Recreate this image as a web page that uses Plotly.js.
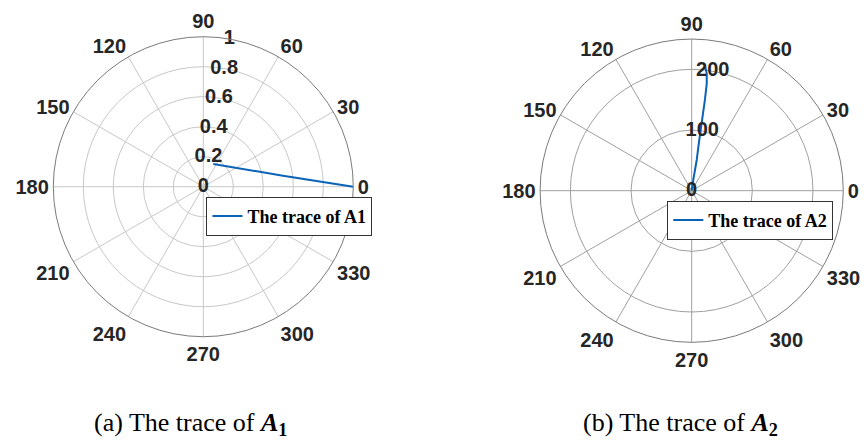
<!DOCTYPE html>
<html>
<head>
<meta charset="utf-8">
<script src="https://cdn.plot.ly/plotly-3.0.1.min.js"></script>
<style>html,body{margin:0;padding:0;background:#fff;}#chart{width:864px;height:445px;}</style>
</head>
<body>
<div id="chart"></div>
<script>
// Trace of A1 (left polar plot)
const a1Theta = [66.2, 7.9, 0];
const a1R = [0.165, 0.536, 1.0];
// Trace of A2 (right polar plot)
const a2Theta = [80, 81.5, 80.7, 81.5, 81.6, 81.7, 82.0, 82.7, 84.0];
const a2R = [0, 17.8, 51.3, 84.5, 112.4, 151.2, 178.8, 195.2, 208.4];

const angleTicks = [0, 30, 60, 90, 120, 150, 180, 210, 240, 270, 300, 330];
const angleTickText = ['0', '30', '60', '90', '120', '150', '180', '210', '240', '270', '300', '330'];
const radialTicks1 = [0, 0.2, 0.4, 0.6, 0.8, 1];
const radialTickText1 = ['0', '0.2', '0.4', '0.6', '0.8', '1'];
const radialTicks2 = [0, 100, 200];
const radialTickText2 = ['0', '100', '200'];
const radialLabelAngle = 80;

const legendName1 = 'The trace of A1';
const legendName2 = 'The trace of A2';
const caption1 = '(a) The trace of <b><i>A</i><sub>1</sub></b>';
const caption2 = '(b) The trace of <b><i>A</i><sub>2</sub></b>';

const bold = arr => arr.map(s => '<b>' + s + '</b>');
const tickFont = {family: 'Liberation Sans, Arial, sans-serif', size: 20, weight: 700, color: '#262626'};
const legendFont = {family: 'Liberation Serif, Times New Roman, serif', size: 18, weight: 700, color: '#000'};
const lineColor = '#0b63b8';

function radialLabels(vals, text, subplot) {
  return {type: 'scatterpolar', mode: 'text', r: vals, theta: vals.map(() => radialLabelAngle),
    text: bold(text), textposition: 'middle center', textfont: tickFont, subplot: subplot,
    showlegend: false, hoverinfo: 'skip', cliponaxis: false};
}

const traces = [
  {type: 'scatterpolar', mode: 'lines', r: a1R, theta: a1Theta, subplot: 'polar',
   name: legendName1, line: {color: lineColor, width: 2}, legend: 'legend'},
  {type: 'scatterpolar', mode: 'lines', r: a2R, theta: a2Theta, subplot: 'polar2',
   name: legendName2, line: {color: lineColor, width: 2}, legend: 'legend2'},
  radialLabels(radialTicks1, radialTickText1, 'polar'),
  radialLabels(radialTicks2, radialTickText2, 'polar2')
];

function angAxis(grid) {
  return {tickvals: angleTicks, ticktext: bold(angleTickText), direction: 'counterclockwise', rotation: 0,
    ticks: '', showline: true, linecolor: '#7a7a7a', linewidth: 1, gridcolor: grid, gridwidth: 1,
    tickfont: tickFont};
}
function radAxis(range, vals, grid) {
  return {range: range, tickvals: vals, angle: radialLabelAngle, showline: false, ticks: '',
    showticklabels: false, gridcolor: grid, gridwidth: 1};
}

const layout = {
  width: 864, height: 445,
  margin: {l: 0, r: 0, t: 0, b: 0},
  paper_bgcolor: '#fff',
  showlegend: true,
  polar: {domain: {x: [0.0617, 0.4089], y: [0.2433, 0.9175]}, bgcolor: '#fff',
    angularaxis: angAxis('#c8c8c8'),
    radialaxis: radAxis([0, 1], radialTicks1, '#c8c8c8')},
  polar2: {domain: {x: [0.6251, 0.9760], y: [0.2308, 0.9122]}, bgcolor: '#fff',
    angularaxis: angAxis('#a0a0a0'),
    radialaxis: radAxis([0, 250], radialTicks2, '#a0a0a0')},
  legend: {x: 0.239, y: 0.558, xanchor: 'left', yanchor: 'top', bgcolor: '#fff',
    bordercolor: '#333', borderwidth: 1, font: legendFont, itemwidth: 30},
  legend2: {x: 0.7723, y: 0.549, xanchor: 'left', yanchor: 'top', bgcolor: '#fff',
    bordercolor: '#333', borderwidth: 1, font: legendFont, itemwidth: 30},
  annotations: [
    {text: caption1, x: 0.221, y: 0.048, xref: 'paper', yref: 'paper', xanchor: 'center', yanchor: 'middle',
     showarrow: false, font: {family: 'Liberation Serif, Times New Roman, serif', size: 26, color: '#000'}},
    {text: caption2, x: 0.788, y: 0.048, xref: 'paper', yref: 'paper', xanchor: 'center', yanchor: 'middle',
     showarrow: false, font: {family: 'Liberation Serif, Times New Roman, serif', size: 26, color: '#000'}}
  ]
};

Plotly.newPlot('chart', traces, layout, {displayModeBar: false, staticPlot: true});
</script>
</body>
</html>
